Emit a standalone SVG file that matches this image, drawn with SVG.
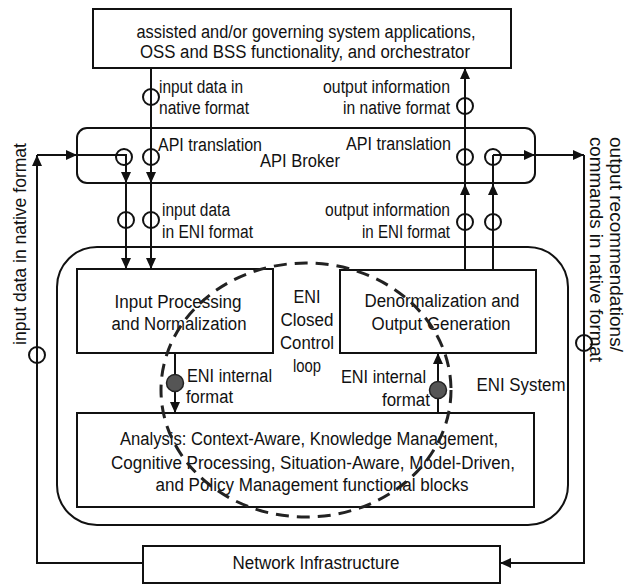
<svg xmlns="http://www.w3.org/2000/svg" width="626" height="585" viewBox="0 0 626 585">
<style>
  .box { fill: #fff; stroke: #111; stroke-width: 2; }
  .ln { fill: none; stroke: #111; stroke-width: 2; }
  .arr { fill: none; stroke: #111; stroke-width: 2; marker-end: url(#ah); }
  .ring { fill: none; stroke: #111; stroke-width: 2; }
  .dot { fill: #555; stroke: #222; stroke-width: 1.5; }
  .loop { fill: none; stroke: #222; stroke-width: 3; stroke-dasharray: 13 8; }
  text { font-family: "Liberation Sans Narrow", "Liberation Sans", Arial, sans-serif; font-size: 18px; fill: #111; }
  .m { text-anchor: middle; }
  .e { text-anchor: end; }
</style>
<defs>
  <marker id="ah" markerUnits="userSpaceOnUse" markerWidth="12" markerHeight="10" refX="11" refY="5" orient="auto">
    <path d="M0,0 L11,5 L0,10 Z" fill="#111"/>
  </marker>
</defs>

<g id="eni-system">
  <rect class="box" x="57" y="247" width="511" height="278" rx="40"/>
  <text x="521" y="391" class="m" textLength="89" lengthAdjust="spacingAndGlyphs">ENI System</text>
</g>

<g id="applications">
  <rect class="box" x="93" y="9" width="418" height="59"/>
  <text x="306" y="38" class="m" textLength="339" lengthAdjust="spacingAndGlyphs">assisted and/or governing system applications,</text>
  <text x="305" y="58" class="m" textLength="330" lengthAdjust="spacingAndGlyphs">OSS and BSS functionality, and orchestrator</text>
</g>

<g id="api-broker">
  <rect class="box" x="77" y="128" width="458" height="55" rx="10"/>
  <text x="260" y="167" textLength="80" lengthAdjust="spacingAndGlyphs">API Broker</text>
</g>

<g id="input-processing">
  <rect class="box" x="77" y="269" width="196" height="84"/>
  <text x="178" y="308" class="m" textLength="127" lengthAdjust="spacingAndGlyphs">Input Processing</text>
  <text x="179" y="330" class="m" textLength="135" lengthAdjust="spacingAndGlyphs">and Normalization</text>
</g>

<g id="denormalization">
  <rect class="box" x="340" y="270" width="196" height="83"/>
  <text x="442" y="307" class="m" textLength="155" lengthAdjust="spacingAndGlyphs">Denormalization and</text>
  <text x="441" y="330" class="m" textLength="139" lengthAdjust="spacingAndGlyphs">Output Generation</text>
</g>

<g id="analysis">
  <rect class="box" x="77" y="413" width="457" height="94"/>
  <text x="309" y="445" class="m" textLength="378" lengthAdjust="spacingAndGlyphs">Analysis: Context-Aware, Knowledge Management,</text>
  <text x="313" y="469" class="m" textLength="404" lengthAdjust="spacingAndGlyphs">Cognitive Processing, Situation-Aware, Model-Driven,</text>
  <text x="312" y="491" class="m" textLength="313" lengthAdjust="spacingAndGlyphs">and Policy Management functional blocks</text>
</g>

<g id="network-infrastructure">
  <rect class="box" x="143" y="546" width="357" height="37"/>
  <text x="316" y="569" class="m" textLength="167" lengthAdjust="spacingAndGlyphs">Network Infrastructure</text>
</g>

<g id="closed-loop-label">
  <text x="307" y="303" class="m" textLength="27" lengthAdjust="spacingAndGlyphs">ENI</text>
  <text x="307" y="326" class="m" textLength="53" lengthAdjust="spacingAndGlyphs">Closed</text>
  <text x="307" y="349" class="m" textLength="54" lengthAdjust="spacingAndGlyphs">Control</text>
  <text x="307" y="372" class="m" textLength="28" lengthAdjust="spacingAndGlyphs">loop</text>
</g>

<g id="connectors">
  <!-- input from applications -->
  <path class="ln" d="M151,68 V157"/>
  <path class="arr" d="M151,157 V183"/>
  <path class="arr" d="M151,183 V269"/>
  <circle class="ring" cx="151" cy="97" r="8"/>
  <circle class="ring" cx="151" cy="157" r="8"/>
  <circle class="ring" cx="151" cy="220" r="8"/>

  <!-- input from network -->
  <path class="arr" d="M143,563 H37 V155"/>
  <path class="arr" d="M37,155 H77"/>
  <path class="ln" d="M77,155 H126 V157"/>
  <path class="arr" d="M126,157 V183"/>
  <path class="arr" d="M126,183 V269"/>
  <circle class="ring" cx="37" cy="355" r="8"/>
  <circle class="ring" cx="124" cy="157" r="8"/>
  <circle class="ring" cx="126" cy="220" r="8"/>

  <!-- output to applications -->
  <path class="arr" d="M465,270 V184"/>
  <path class="arr" d="M465,184 V68"/>
  <circle class="ring" cx="465" cy="106" r="8"/>
  <circle class="ring" cx="465" cy="157" r="8"/>
  <circle class="ring" cx="465" cy="222" r="8"/>

  <!-- output to network -->
  <path class="arr" d="M493,270 V184"/>
  <path class="ln" d="M493,184 V155"/>
  <path class="arr" d="M493,155 H535"/>
  <path class="arr" d="M535,155 H584"/>
  <path class="arr" d="M584,155 V563 H500"/>
  <circle class="ring" cx="493" cy="157" r="8"/>
  <circle class="ring" cx="493" cy="222" r="8"/>
  <circle class="ring" cx="584" cy="343" r="8"/>

  <!-- internal -->
  <path class="arr" d="M175,353 V413"/>
  <circle class="dot" cx="175" cy="383" r="8.5"/>
  <path class="arr" d="M438,413 V353"/>
  <circle class="dot" cx="438" cy="390" r="8.5"/>
</g>

<g id="connector-labels">
  <text x="159" y="93" textLength="84" lengthAdjust="spacingAndGlyphs">input data in</text>
  <text x="159" y="114" textLength="90" lengthAdjust="spacingAndGlyphs">native format</text>
  <text x="450" y="93" class="e" textLength="127" lengthAdjust="spacingAndGlyphs">output information</text>
  <text x="450" y="114" class="e" textLength="107" lengthAdjust="spacingAndGlyphs">in native format</text>
  <text x="158" y="151" textLength="104" lengthAdjust="spacingAndGlyphs">API translation</text>
  <text x="451" y="150" class="e" textLength="105" lengthAdjust="spacingAndGlyphs">API translation</text>
  <text x="162" y="216" textLength="68" lengthAdjust="spacingAndGlyphs">input data</text>
  <text x="162" y="238" textLength="91" lengthAdjust="spacingAndGlyphs">in ENI format</text>
  <text x="450" y="216" class="e" textLength="125" lengthAdjust="spacingAndGlyphs">output information</text>
  <text x="450" y="238" class="e" textLength="88" lengthAdjust="spacingAndGlyphs">in ENI format</text>
  <text x="187" y="382" textLength="85" lengthAdjust="spacingAndGlyphs">ENI internal</text>
  <text x="186" y="403" textLength="47" lengthAdjust="spacingAndGlyphs">format</text>
  <text x="426" y="383" class="e" textLength="85" lengthAdjust="spacingAndGlyphs">ENI internal</text>
  <text x="430" y="406" class="e" textLength="48" lengthAdjust="spacingAndGlyphs">format</text>
  <text transform="translate(26,244) rotate(-90)" class="m" textLength="202" lengthAdjust="spacingAndGlyphs">input data in native format</text>
  <text transform="translate(610,137) rotate(90)" textLength="215" lengthAdjust="spacingAndGlyphs">output recommendations/</text>
  <text transform="translate(590,137) rotate(90)" textLength="225" lengthAdjust="spacingAndGlyphs">commands in native format</text>
</g>

<ellipse class="loop" cx="306" cy="390" rx="145" ry="127"/>
</svg>
